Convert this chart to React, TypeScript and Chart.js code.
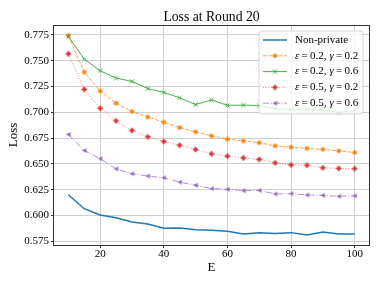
import React, { useEffect, useRef } from "react";
import { Chart, registerables } from "chart.js";
Chart.register(...registerables);

const epochs = [10, 15, 20, 25, 30, 35, 40, 45, 50, 55, 60, 65, 70, 75, 80, 85, 90, 95, 100];
const nonPrivate = [0.620, 0.6065, 0.6004, 0.5978, 0.5937, 0.5917, 0.5876, 0.5878, 0.5862, 0.5855, 0.5847, 0.582, 0.5833, 0.5825, 0.5833, 0.581, 0.584, 0.582, 0.582];
const eps02gam02 = [0.7745, 0.739, 0.7207, 0.7088, 0.7007, 0.6955, 0.6904, 0.6852, 0.681, 0.6771, 0.674, 0.6723, 0.6705, 0.6675, 0.6662, 0.665, 0.664, 0.6626, 0.661];
const eps02gam06 = [0.7735, 0.7516, 0.7404, 0.7332, 0.730, 0.723, 0.7194, 0.714, 0.7075, 0.712, 0.7068, 0.707, 0.7065, 0.7033, 0.7027, 0.703, 0.7023, 0.6998, 0.702];
const eps05gam02 = [0.7568, 0.7223, 0.7039, 0.6917, 0.6824, 0.6762, 0.6717, 0.6681, 0.664, 0.6597, 0.6575, 0.6558, 0.6543, 0.651, 0.649, 0.6487, 0.6462, 0.6456, 0.6453];
const eps05gam06 = [0.6785, 0.663, 0.655, 0.6452, 0.6404, 0.6382, 0.6365, 0.6323, 0.6292, 0.626, 0.6253, 0.624, 0.6243, 0.6208, 0.6211, 0.6198, 0.6195, 0.6185, 0.619];

const xTicks = [20, 40, 60, 80, 100];
const yTicks = [0.575, 0.6, 0.625, 0.65, 0.675, 0.7, 0.725, 0.75, 0.775];
const titleText = "Loss at Round 20";
const xLabel = "E";
const yLabel = "Loss";
const epsValues = ["0.2", "0.2", "0.5", "0.5"];
const gammaValues = ["0.2", "0.6", "0.2", "0.6"];

const SERIF = "'Liberation Serif', 'Times New Roman', serif";

function makeMarker(kind: string, color: string): HTMLCanvasElement {
  const c = document.createElement("canvas");
  c.width = 9;
  c.height = 9;
  const g = c.getContext("2d")!;
  const m = 4.5;
  g.fillStyle = color;
  g.strokeStyle = color;
  if (kind === "circle") {
    g.beginPath();
    g.arc(m, m, 2.3, 0, Math.PI * 2);
    g.fill();
  } else if (kind === "plus") {
    g.fillRect(m - 2.7, m - 0.95, 5.4, 1.9);
    g.fillRect(m - 0.95, m - 2.7, 1.9, 5.4);
  } else if (kind === "x") {
    g.lineWidth = 1;
    g.beginPath();
    g.moveTo(m - 2, m - 2);
    g.lineTo(m + 2, m + 2);
    g.moveTo(m + 2, m - 2);
    g.lineTo(m - 2, m + 2);
    g.stroke();
  } else if (kind === "triLeft") {
    g.beginPath();
    g.moveTo(m - 2.4, m);
    g.lineTo(m + 2.1, m - 2.4);
    g.lineTo(m + 2.1, m + 2.4);
    g.closePath();
    g.fill();
  }
  return c;
}

export default function App() {
  const ref = useRef<HTMLCanvasElement | null>(null);
  useEffect(() => {
    document.body.style.margin = "0";
    const canvas = ref.current!;
    const series = [
      { label: "Non-private", data: nonPrivate, line: "rgba(31,119,180,1)", width: 1.5, dash: [] as number[], marker: null as any },
      { label: "p0", data: eps02gam02, line: "rgba(255,127,14,0.75)", width: 1, dash: [3.7, 1.6], marker: makeMarker("circle", "rgba(255,127,14,0.95)") },
      { label: "p1", data: eps02gam06, line: "rgba(44,160,44,0.85)", width: 1, dash: [], marker: makeMarker("x", "rgba(44,160,44,0.95)") },
      { label: "p2", data: eps05gam02, line: "rgba(214,39,40,0.55)", width: 1, dash: [1, 1.65], marker: makeMarker("plus", "rgba(214,39,40,0.95)") },
      { label: "p3", data: eps05gam06, line: "rgba(148,103,189,0.7)", width: 1, dash: [6.4, 1.6, 1, 1.6], marker: makeMarker("triLeft", "rgba(148,103,189,0.95)") },
    ];

    const datasets = series.map((s, i) => ({
      label: s.label,
      data: epochs.map((x, j) => ({ x, y: s.data[j] })),
      borderColor: s.line,
      backgroundColor: s.line,
      borderWidth: s.width,
      borderDash: s.dash,
      pointStyle: s.marker ? s.marker : "circle",
      pointRadius: s.marker ? 3 : 0,
      pointHoverRadius: s.marker ? 3 : 0,
      tension: 0,
      fill: false,
      order: 10 - i,
    }));

    const custom = {
      id: "custom",
      afterDraw(chart: any) {
        const ctx = chart.ctx as CanvasRenderingContext2D;
        const ca = chart.chartArea;
        ctx.save();
        // frame
        ctx.strokeStyle = "#333";
        ctx.lineWidth = 1;
        ctx.strokeRect(Math.round(ca.left) - 0.5, Math.round(ca.top) + 0.5, Math.round(ca.right - ca.left) + 1, Math.round(ca.bottom - ca.top));
        // title
        ctx.fillStyle = "#000";
        ctx.textAlign = "center";
        ctx.textBaseline = "middle";
        ctx.font = `13.7px ${SERIF}`;
        ctx.fillText(titleText, (ca.left + ca.right) / 2, 17.5);
        // x label
        ctx.font = `13px ${SERIF}`;
        ctx.fillText(xLabel, (ca.left + ca.right) / 2, 268);
        // y label
        ctx.save();
        ctx.translate(14, (ca.top + ca.bottom) / 2);
        ctx.rotate(-Math.PI / 2);
        ctx.fillText(yLabel, 0, 0);
        ctx.restore();

        // legend
        const bx = 259, by = 31, bw = 104, bh = 83;
        ctx.beginPath();
        const r = 3;
        ctx.moveTo(bx + r, by);
        ctx.arcTo(bx + bw, by, bx + bw, by + bh, r);
        ctx.arcTo(bx + bw, by + bh, bx, by + bh, r);
        ctx.arcTo(bx, by + bh, bx, by, r);
        ctx.arcTo(bx, by, bx + bw, by, r);
        ctx.closePath();
        ctx.fillStyle = "rgba(255,255,255,0.8)";
        ctx.fill();
        ctx.strokeStyle = "rgba(204,204,204,0.8)";
        ctx.lineWidth = 1;
        ctx.stroke();

        const rowY = [40, 55.8, 71.6, 87.4, 103.2];
        const x0 = 263, x1 = 287, tx = 295;
        series.forEach((s, i) => {
          const y = rowY[i];
          ctx.save();
          ctx.strokeStyle = s.line;
          ctx.lineWidth = s.width;
          ctx.setLineDash(s.dash);
          ctx.beginPath();
          ctx.moveTo(x0, y);
          ctx.lineTo(x1, y);
          ctx.stroke();
          ctx.restore();
          if (s.marker) ctx.drawImage(s.marker, (x0 + x1) / 2 - 4.5, y - 4.5);
          ctx.fillStyle = "#000";
          ctx.textAlign = "left";
          ctx.textBaseline = "middle";
          if (i === 0) {
            ctx.font = `11px ${SERIF}`;
            ctx.fillText(s.label, tx, y);
          } else {
            const segs: [string, boolean, number][] = [
              ["ε", true, 2.2],
              ["=", false, 2.2],
              [epsValues[i - 1] + ",", false, 3],
              ["γ", true, 2.2],
              ["=", false, 2.2],
              [gammaValues[i - 1], false, 0],
            ];
            let cx = tx;
            segs.forEach(([t, it, gap]) => {
              ctx.font = `${it ? "italic " : ""}11px ${SERIF}`;
              ctx.fillText(t, cx, y);
              cx += ctx.measureText(t).width + gap;
            });
          }
        });
        ctx.restore();
      },
    };

    const chart = new Chart(canvas, {
      type: "line",
      data: { datasets: datasets as any },
      options: {
        animation: false,
        responsive: false,
        events: [],
        layout: { padding: { top: 25, right: 13, left: 0, bottom: 0 } },
        plugins: { legend: { display: false }, title: { display: false }, tooltip: { enabled: false } },
        scales: {
          x: {
            type: "linear",
            min: 5.5,
            max: 104.5,
            afterFit: (s: any) => { s.height = 41; },
            afterBuildTicks: (s: any) => { s.ticks = xTicks.map((v) => ({ value: v })); },
            ticks: { font: { family: SERIF, size: 11 }, color: "#000", padding: 0, maxRotation: 0, autoSkip: false },
            grid: { color: "#cfcfcf", tickColor: "#333", tickLength: 3, lineWidth: 1 },
            border: { display: false },
          },
          y: {
            type: "linear",
            min: 0.5713,
            max: 0.7847,
            afterFit: (s: any) => { s.width = 54; },
            afterBuildTicks: (s: any) => { s.ticks = yTicks.map((v) => ({ value: v })); },
            ticks: { font: { family: SERIF, size: 11 }, color: "#000", padding: 2, autoSkip: false, callback: (v: any) => Number(v).toFixed(3) },
            grid: { color: "#cfcfcf", tickColor: "#333", tickLength: 3, lineWidth: 1 },
            border: { display: false },
          },
        },
      },
      plugins: [custom],
    });
    return () => chart.destroy();
  }, []);
  return <canvas ref={ref} width={382} height={286} style={{ display: "block", width: 382, height: 286 }} />;
}
